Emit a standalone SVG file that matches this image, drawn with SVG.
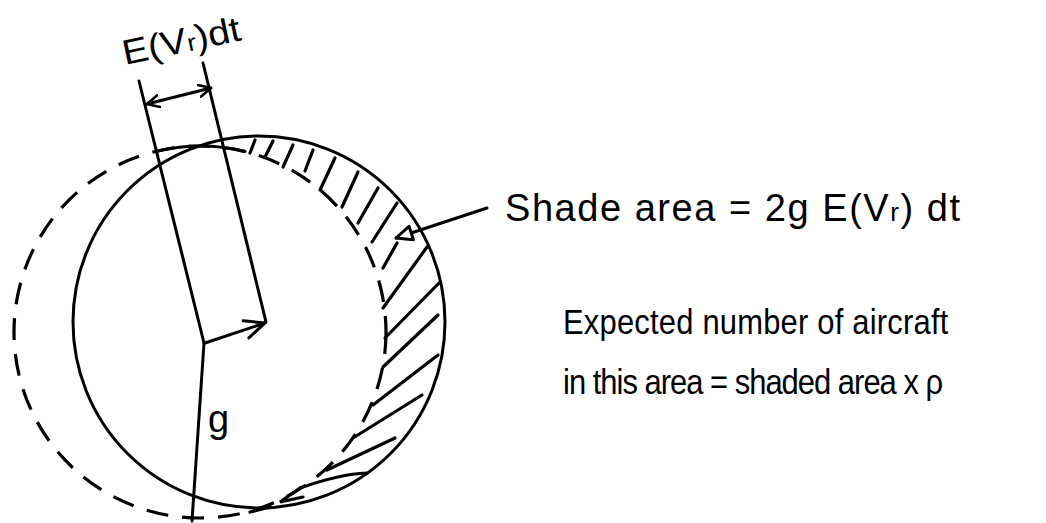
<svg xmlns="http://www.w3.org/2000/svg" width="1046" height="523" viewBox="0 0 1046 523">
<style>
.ln{fill:none;stroke:#000;stroke-width:3;stroke-linecap:round;stroke-linejoin:round}
.dash{fill:none;stroke:#000;stroke-width:3.2;stroke-dasharray:22 14;stroke-linecap:butt}
.ht{fill:none;stroke:#000;stroke-width:3.2;stroke-linecap:round}
.tx{font-family:"Liberation Sans",Arial,sans-serif;fill:#000}
</style>
<defs>
<marker id="ah" viewBox="0 0 14 14" refX="13" refY="7" markerWidth="14" markerHeight="14" markerUnits="userSpaceOnUse" orient="auto-start-reverse">
<path d="M1,1 L13,7 L1,13" fill="none" stroke="#000" stroke-width="2.6" stroke-linecap="round"/>
</marker>
<marker id="ahb" viewBox="0 0 24 24" refX="22" refY="12" markerWidth="24" markerHeight="24" markerUnits="userSpaceOnUse" orient="auto">
<path d="M2,3 L22,12 L2,21" fill="none" stroke="#000" stroke-width="3" stroke-linecap="round"/>
</marker>
<marker id="tri" viewBox="0 0 20 20" refX="19" refY="10" markerWidth="20" markerHeight="20" markerUnits="userSpaceOnUse" orient="auto">
<path d="M3,3 L19,10 L3,17 Z" fill="#fff" stroke="#000" stroke-width="3" stroke-linejoin="round"/>
</marker>
</defs>
<rect width="1046" height="523" fill="#fff"/>

<g id="moved-circle">
<circle cx="200" cy="332" r="186" class="dash"/>
<path d="M158,151 A186,186 0 0,1 245,151.5" class="ln"/>
</g>

<g id="circle">
<circle cx="259" cy="322" r="186" class="ln"/>
</g>

<g id="band">
<line x1="139" y1="81" x2="204" y2="343" class="ln"/>
<line x1="203" y1="63" x2="266" y2="322" class="ln"/>
</g>

<g id="radius">
<line x1="204" y1="343" x2="192" y2="521" class="ln"/>
<text x="208" y="432" class="tx" font-size="38">g</text>
</g>

<g id="hatching">
<line x1="250" y1="153" x2="255" y2="140" class="ht"/>
<line x1="265" y1="157" x2="273" y2="141" class="ht"/>
<line x1="283" y1="167" x2="293" y2="145" class="ht"/>
<line x1="305" y1="171" x2="313" y2="150" class="ht"/>
<line x1="320" y1="190" x2="335" y2="158" class="ht"/>
<line x1="342" y1="207" x2="358" y2="172" class="ht"/>
<line x1="358" y1="223" x2="378" y2="188" class="ht"/>
<line x1="372" y1="242" x2="397" y2="203" class="ht"/>
<line x1="383" y1="268" x2="397" y2="243" class="ht"/>
<line x1="383" y1="308" x2="427" y2="247" class="ht"/>
<line x1="385" y1="338" x2="440" y2="282" class="ht"/>
<line x1="383" y1="367" x2="438" y2="315" class="ht"/>
<line x1="373" y1="405" x2="438" y2="355" class="ht"/>
<line x1="353" y1="438" x2="422" y2="395" class="ht"/>
<line x1="327" y1="470" x2="395" y2="438" class="ht"/>
<path d="M300,488 Q340,474 367,473" class="ht"/>
<path d="M300,488 L280,502 L303,497" class="ht"/>
<line x1="250" y1="512" x2="270" y2="507" class="ht"/>
</g>

<g id="connectors">
<line x1="147" y1="104" x2="211" y2="88" class="ln" marker-start="url(#ah)" marker-end="url(#ah)"/>
<line x1="205" y1="343" x2="265" y2="323" class="ln" marker-end="url(#ahb)"/>
<path d="M487,208 L396,238" class="ln" marker-end="url(#tri)"/>
</g>

<g id="label-dim">
<text transform="translate(125,65) rotate(-12)" class="tx" font-size="35" textLength="120" lengthAdjust="spacingAndGlyphs">E(V<tspan font-size="24">r</tspan>)dt</text>
</g>

<g id="label-shade">
<text x="505" y="221" class="tx" font-size="38" textLength="455" lengthAdjust="spacing">Shade area = 2g E(V<tspan font-size="26">r</tspan>) dt</text>
</g>

<g id="label-expected">
<text transform="translate(563,334) scale(0.86,1)" class="tx" font-size="36" textLength="448" lengthAdjust="spacing">Expected number of aircraft</text>
<text transform="translate(563,394) scale(0.86,1)" class="tx" font-size="36" textLength="442" lengthAdjust="spacing">in this area = shaded area x ρ</text>
</g>
</svg>
